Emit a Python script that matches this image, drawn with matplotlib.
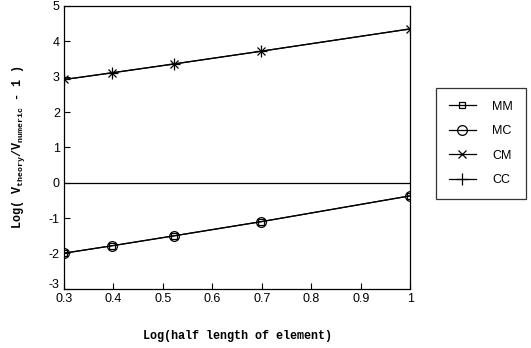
import matplotlib
matplotlib.use("Agg")
import matplotlib.pyplot as plt
import matplotlib.transforms as mtransforms

# log10 of half element length: 2, 2.5, 3.33, 5, 10
x = [0.301, 0.398, 0.523, 0.699, 1.0]

mm = [-1.99, -1.78, -1.50, -1.10, -0.37]
mc = [-1.99, -1.78, -1.50, -1.10, -0.37]
cm = [2.92, 3.11, 3.36, 3.72, 4.35]
cc = [2.92, 3.11, 3.36, 3.72, 4.35]

xticks = [0.3, 0.4, 0.5, 0.6, 0.7, 0.8, 0.9, 1]
xticklabels = ['0.3', '0.4', '0.5', '0.6', '0.7', '0.8', '0.9', '1']
yticks = [-3, -2, -1, 0, 1, 2, 3, 4, 5]

plt.rcParams['font.family'] = 'Liberation Sans'
plt.rcParams['axes.unicode_minus'] = False

fig = plt.figure(figsize=(5.31, 3.48), dpi=100)
ax = fig.add_axes([0.1205, 0.17, 0.652, 0.813])

ax.axhline(0, color='black', lw=0.9)

ax.plot(x, mm, color='black', lw=0.9, marker='s', ms=5, mfc='none', mew=0.9, label='MM')
ax.plot(x, mc, color='black', lw=0.9, marker='o', ms=7, mfc='none', mew=0.9, label='MC')
ax.plot(x, cm, color='black', lw=0.9, marker='x', ms=6, mew=0.9, label='CM')
ax.plot(x, cc, color='black', lw=0.9, marker='+', ms=8, mew=0.9, label='CC')

ax.set_xlim(0.3, 1)
ax.set_ylim(-3, 5)
ax.set_xticks(xticks)
ax.set_xticklabels(xticklabels)
ax.set_yticks(yticks)
ax.tick_params(direction='in', length=4, width=0.8, labelsize=9, pad=3)
for s in ax.spines.values():
    s.set_linewidth(0.9)

# lift the bottom y label a little so it clears the first x label
lab = ax.get_yticklabels()[0]
lab.set_transform(lab.get_transform() +
                  mtransforms.ScaledTranslation(0, 4 / 72, fig.dpi_scale_trans))

bold = {'family': 'Liberation Mono', 'weight': 'bold', 'size': 8.5}
ax.set_xlabel('Log(half length of element)', fontdict=bold, labelpad=18)
ax.set_ylabel(r'Log( V$\mathregular{_{theory}}$/V$\mathregular{_{numeric}}$ - 1 )',
              fontdict=bold, labelpad=16)

leg = ax.legend(loc='center left', bbox_to_anchor=(1.075, 0.514), frameon=True,
                fancybox=False, edgecolor='black', fontsize=9, handlelength=2.2,
                labelspacing=1.0, borderpad=1.0, handletextpad=1.3,
                borderaxespad=0.0)
leg.get_frame().set_linewidth(0.9)

fig.savefig('out.png', dpi=100)
